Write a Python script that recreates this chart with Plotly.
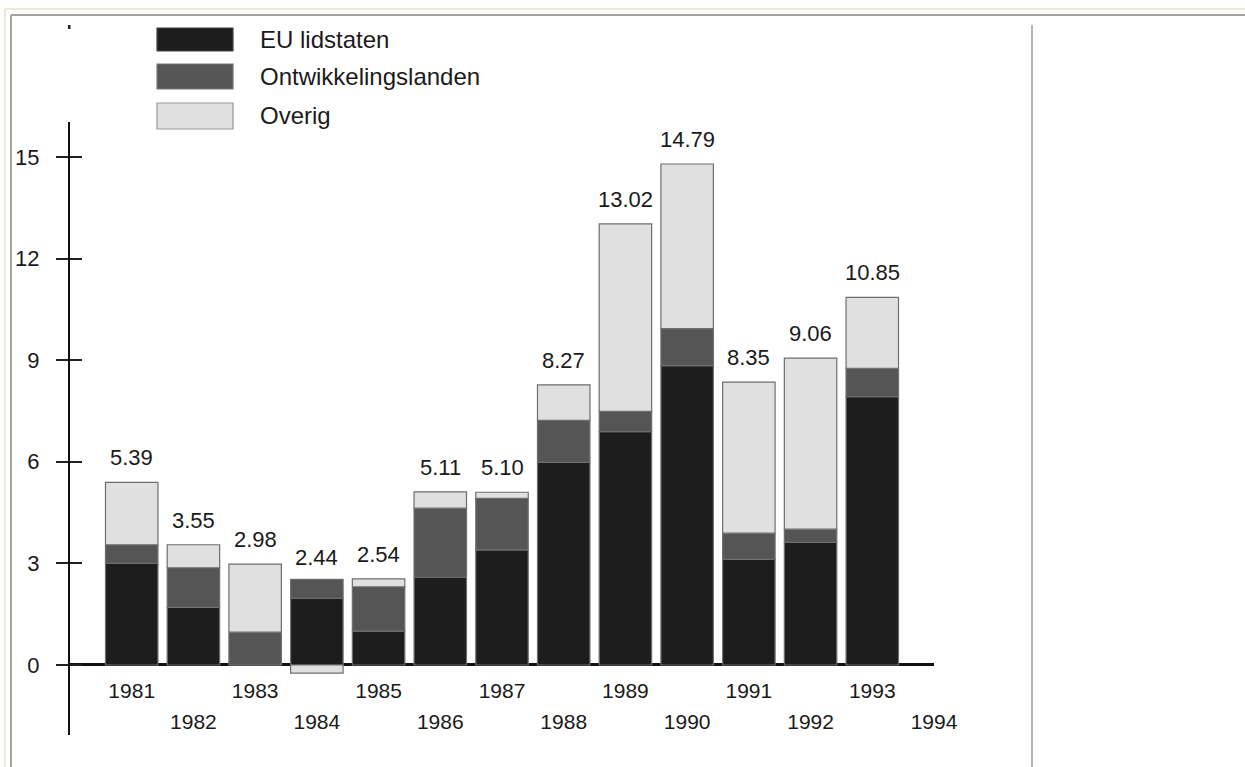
import plotly.graph_objects as go

# ---- data ----
years = [1981, 1982, 1983, 1984, 1985, 1986, 1987, 1988, 1989, 1990, 1991, 1992, 1993]
eu_lidstaten = [3.00, 1.70, 0.00, 1.97, 1.00, 2.59, 3.40, 5.98, 6.89, 8.84, 3.12, 3.62, 7.92]
ontwikkelingslanden = [0.55, 1.17, 0.97, 0.56, 1.31, 2.04, 1.52, 1.24, 0.60, 1.09, 0.77, 0.39, 0.84]
overig = [1.84, 0.68, 2.01, -0.24, 0.23, 0.48, 0.18, 1.05, 5.53, 4.86, 4.46, 5.05, 2.09]
totals = [5.39, 3.55, 2.98, 2.44, 2.54, 5.11, 5.10, 8.27, 13.02, 14.79, 8.35, 9.06, 10.85]
ticks_row1 = [1981, 1983, 1985, 1987, 1989, 1991, 1993]
ticks_row2 = [1982, 1984, 1986, 1988, 1990, 1992, 1994]
y_ticks = [0, 3, 6, 9, 12, 15]
series_names = ["EU lidstaten", "Ontwikkelingslanden", "Overig"]

# ---- styling ----
W, H = 1245, 767
FONT = "Liberation Sans, Arial, Helvetica, sans-serif"
C_EU = "#1d1d1d"
C_ONT = "#555555"
C_OV = "#e0e0e0"
EDGE = "#6e6e6e"
TXT = "#1a1a1a"

def px(x):
    return x / W

def py(y):
    return 1 - y / H

fig = go.Figure()
for name, vals, col in zip(series_names, [eu_lidstaten, ontwikkelingslanden, overig], [C_EU, C_ONT, C_OV]):
    fig.add_trace(go.Bar(
        x=years, y=vals, name=name, width=0.85,
        marker=dict(color=col, line=dict(color=EDGE, width=1.2)),
        showlegend=False, hoverinfo="x+y+name",
    ))

# invisible helper trace so the secondary axes (second tick row / inner tick marks) are drawn
fig.add_trace(go.Scatter(x=ticks_row2, y=[0] * len(ticks_row2), xaxis="x2", yaxis="y2",
                         mode="markers", marker=dict(opacity=0), showlegend=False, hoverinfo="skip"))

for yr, t in zip(years, totals):
    fig.add_annotation(x=yr, y=t, text=f"{t:.2f}", showarrow=False, yanchor="bottom",
                       yshift=10, font=dict(family=FONT, size=22, color=TXT))

y_rng = [-2.067, 16.03]
x_rng = [1980, 1994]
xdom = [px(70), px(934)]
ydom = [py(735), py(122)]
axis_pos = py(665)

fig.update_layout(
    width=W, height=H, template="none",
    margin=dict(l=0, r=0, t=0, b=0),
    paper_bgcolor="white", plot_bgcolor="white",
    barmode="relative", bargap=0.15,
    font=dict(family=FONT, size=21, color=TXT),
    xaxis=dict(domain=xdom, range=x_rng, anchor="free", position=axis_pos,
               tickvals=ticks_row1, ticktext=[str(v) for v in ticks_row1],
               showline=False, showgrid=False, zeroline=False, ticks="",
               ticklabelstandoff=11, automargin=False,
               tickfont=dict(family=FONT, size=21, color=TXT)),
    xaxis2=dict(domain=xdom, range=x_rng, overlaying="x", anchor="free", position=axis_pos,
                tickvals=ticks_row2, ticktext=[str(v) for v in ticks_row2],
                showline=False, showgrid=False, zeroline=False, ticks="",
                ticklabelstandoff=42, automargin=False,
                tickfont=dict(family=FONT, size=21, color=TXT)),
    yaxis=dict(domain=ydom, range=y_rng, anchor="x", side="left",
               tickvals=y_ticks, ticks="outside", ticklen=12, tickwidth=2, tickcolor="#222",
               showline=True, linecolor="#111", linewidth=2,
               showgrid=False, zeroline=True, zerolinecolor="#111", zerolinewidth=3,
               ticklabelstandoff=12, automargin=False,
               tickfont=dict(family=FONT, size=22, color=TXT)),
    yaxis2=dict(domain=ydom, range=y_rng, overlaying="y", anchor="x", side="left",
                tickvals=y_ticks, ticks="inside", ticklen=12, tickwidth=2, tickcolor="#222",
                showticklabels=False, showline=False, showgrid=False, zeroline=False,
                automargin=False),
)

# ---- manual legend (wide swatches) ----
legend_rows = [(28, 51, C_EU, "#444"), (64, 89, C_ONT, "#777"), (103, 129, C_OV, "#999")]
for (y0, y1, col, edge), name in zip(legend_rows, series_names):
    fig.add_shape(type="rect", xref="paper", yref="paper",
                  x0=px(157), x1=px(233), y0=py(y1), y1=py(y0),
                  fillcolor=col, line=dict(color=edge, width=1.2))
    fig.add_annotation(xref="paper", yref="paper", x=px(258), y=py((y0 + y1) / 2),
                       text=name, showarrow=False, xanchor="left", yanchor="middle",
                       font=dict(family=FONT, size=24, color=TXT))

# ---- page frame lines ----
fig.add_shape(type="line", xref="paper", yref="paper", x0=px(5), x1=1, y0=py(9), y1=py(9),
              line=dict(color="#ece9d8", width=2))
fig.add_shape(type="line", xref="paper", yref="paper", x0=px(5), x1=px(5), y0=py(9), y1=0,
              line=dict(color="#ece9d8", width=2))
fig.add_shape(type="line", xref="paper", yref="paper", x0=px(11), x1=1, y0=py(15), y1=py(15),
              line=dict(color="#a4a49c", width=2))
fig.add_shape(type="line", xref="paper", yref="paper", x0=px(11), x1=px(11), y0=py(15), y1=0,
              line=dict(color="#a4a49c", width=2))
fig.add_shape(type="line", xref="paper", yref="paper", x0=px(1032), x1=px(1032), y0=py(25), y1=0,
              line=dict(color="#b4b4b4", width=2))
# small scan speck above the axis
fig.add_shape(type="rect", xref="paper", yref="paper", x0=px(68), x1=px(70.5), y0=py(29), y1=py(25),
              fillcolor="#222", line=dict(width=0))

fig.write_html("out.html")
